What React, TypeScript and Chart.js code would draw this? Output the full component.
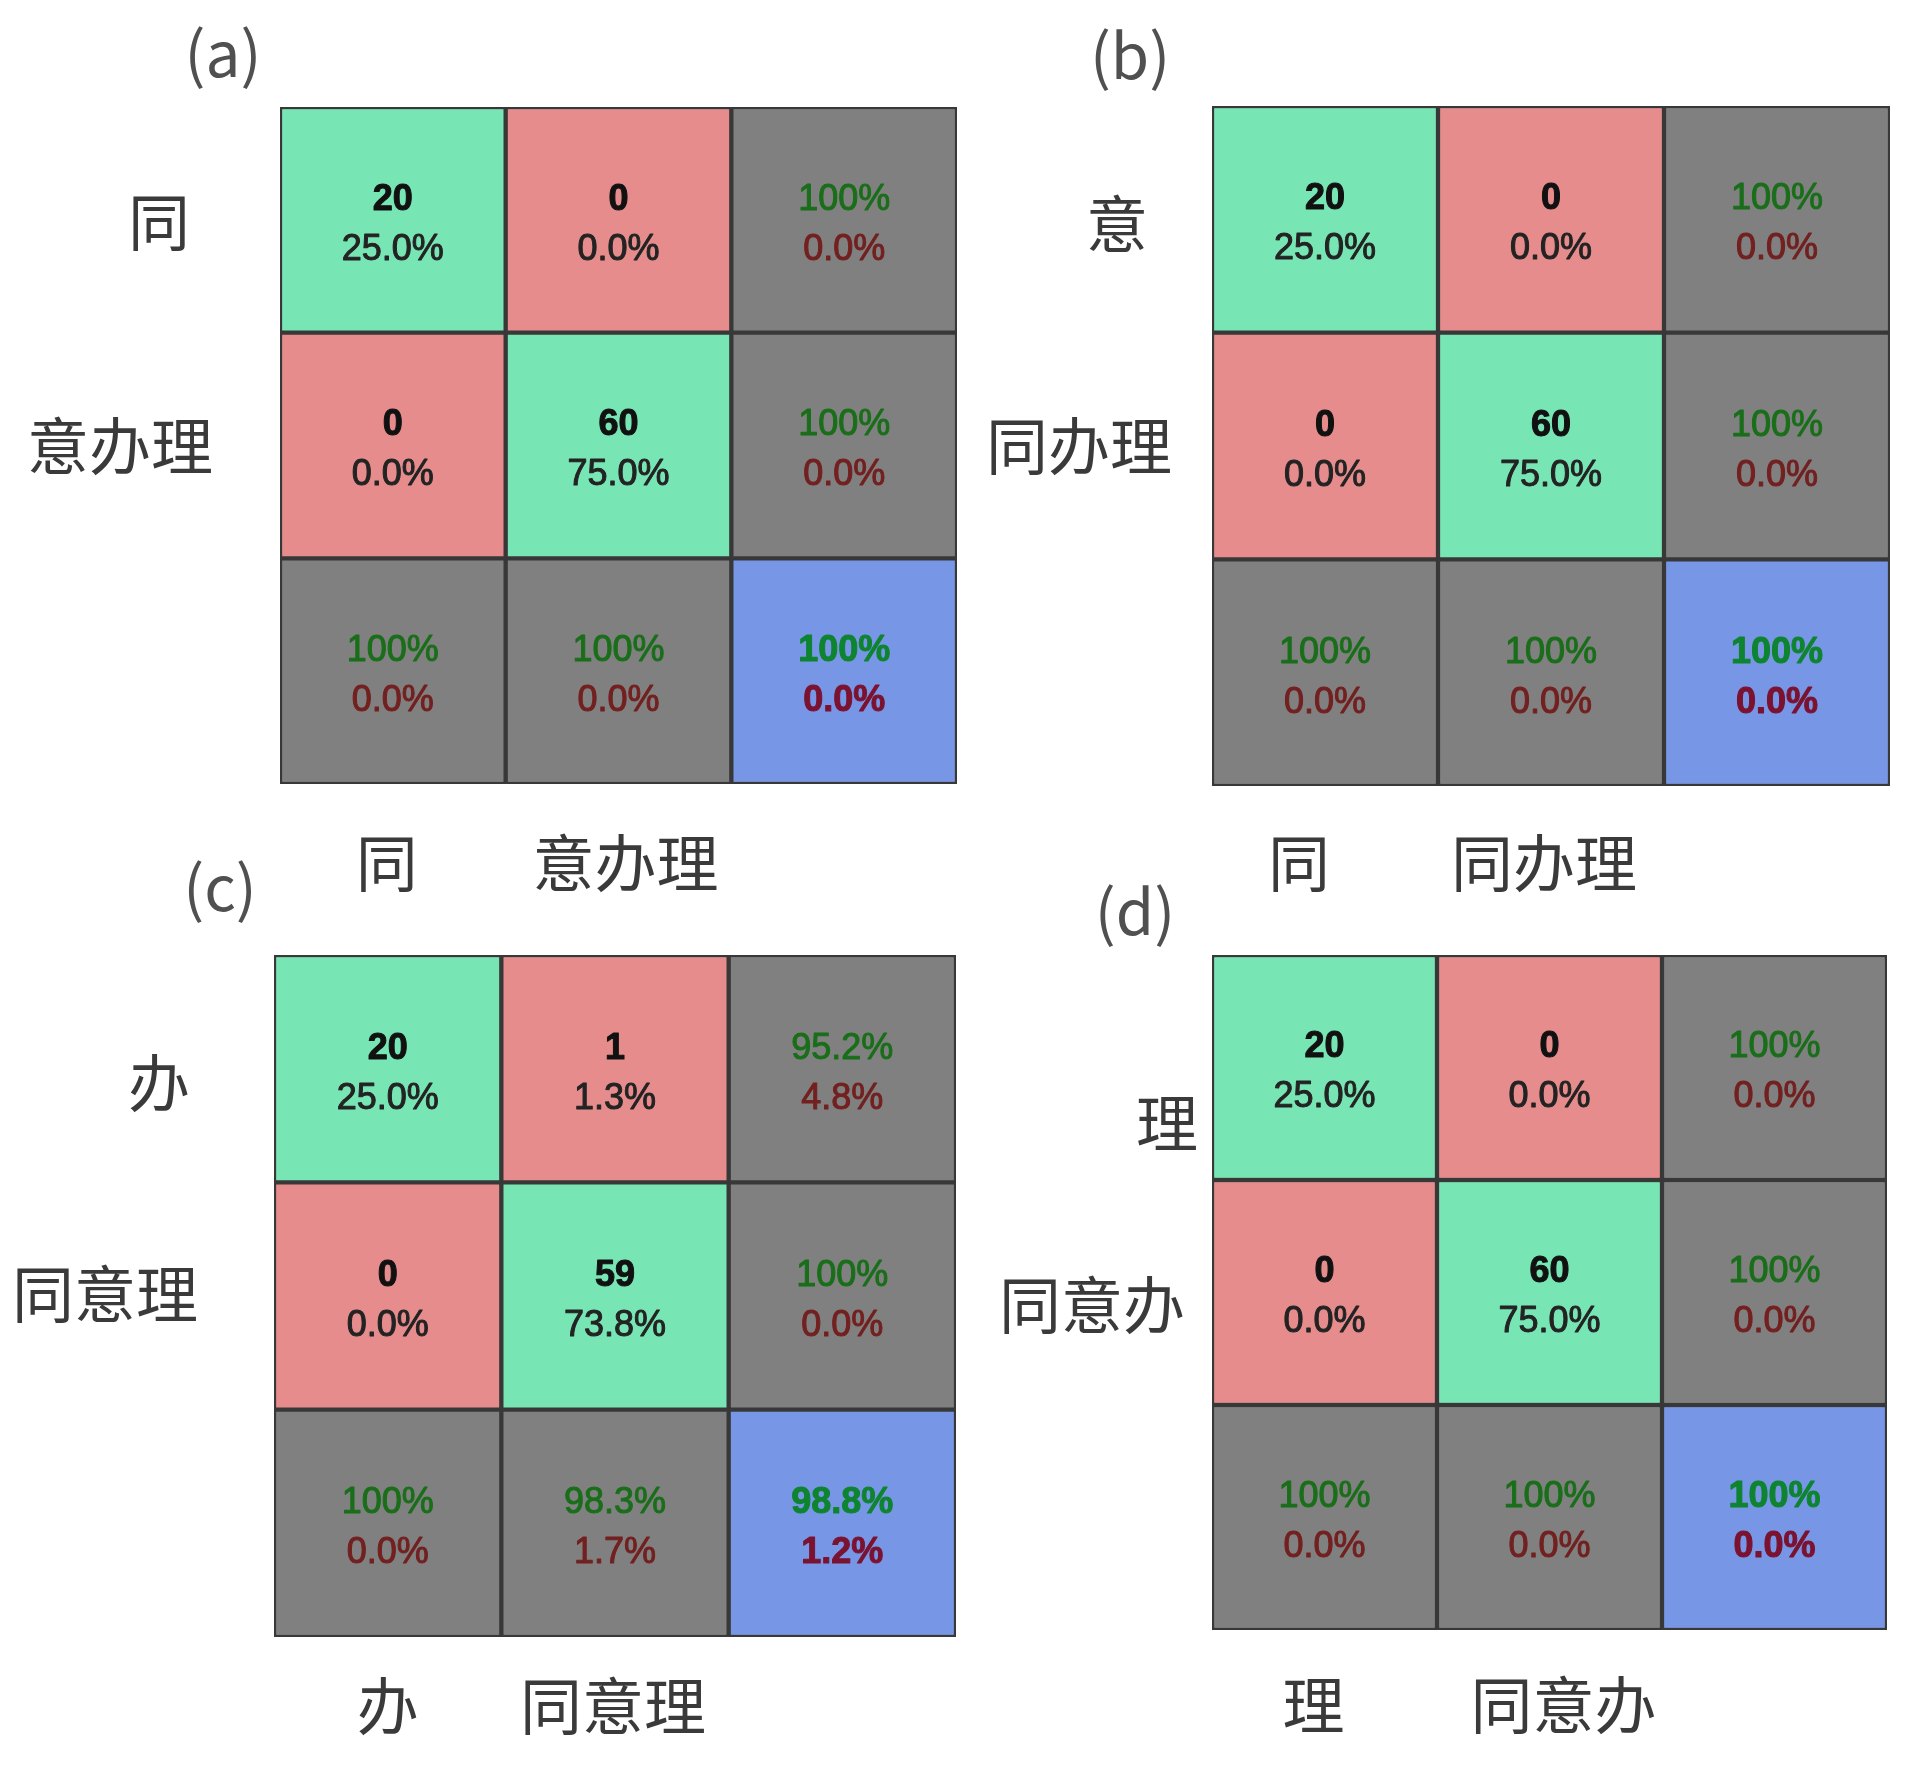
import React, { useEffect, useRef } from 'react';
import { Chart, registerables } from 'chart.js';

Chart.register(...registerables);

const PAGE_W = 1917;
const PAGE_H = 1773;

// ---------- Panel (a) ----------
const titleA = '(a)';
const rowLabelsA = ['同', '意办理'];
const colLabelsA = ['同', '意办理'];
const countsA = [[20, 0], [0, 60]];
const cellPctA = [['25.0%', '0.0%'], ['0.0%', '75.0%']];
const rowSummaryA = [['100%', '0.0%'], ['100%', '0.0%']];
const colSummaryA = [['100%', '0.0%'], ['100%', '0.0%']];
const overallA = ['100%', '0.0%'];

// ---------- Panel (b) ----------
const titleB = '(b)';
const rowLabelsB = ['意', '同办理'];
const colLabelsB = ['同', '同办理'];
const countsB = [[20, 0], [0, 60]];
const cellPctB = [['25.0%', '0.0%'], ['0.0%', '75.0%']];
const rowSummaryB = [['100%', '0.0%'], ['100%', '0.0%']];
const colSummaryB = [['100%', '0.0%'], ['100%', '0.0%']];
const overallB = ['100%', '0.0%'];

// ---------- Panel (c) ----------
const titleC = '(c)';
const rowLabelsC = ['办', '同意理'];
const colLabelsC = ['办', '同意理'];
const countsC = [[20, 1], [0, 59]];
const cellPctC = [['25.0%', '1.3%'], ['0.0%', '73.8%']];
const rowSummaryC = [['95.2%', '4.8%'], ['100%', '0.0%']];
const colSummaryC = [['100%', '0.0%'], ['98.3%', '1.7%']];
const overallC = ['98.8%', '1.2%'];

// ---------- Panel (d) ----------
const titleD = '(d)';
const rowLabelsD = ['理', '同意办'];
const colLabelsD = ['理', '同意办'];
const countsD = [[20, 0], [0, 60]];
const cellPctD = [['25.0%', '0.0%'], ['0.0%', '75.0%']];
const rowSummaryD = [['100%', '0.0%'], ['100%', '0.0%']];
const colSummaryD = [['100%', '0.0%'], ['100%', '0.0%']];
const overallD = ['100%', '0.0%'];

// Unit span of each cell in the 3x3 grid (rows stacked on the value axis)
const cellSpan = [1, 1, 1];

// ---------- Styles / layout ----------
const COLORS = {
  correct: '#78E6B4',
  wrong: '#E68C8C',
  summary: '#808080',
  overall: '#7896E6',
  border: '#383838',
  count: '#111111',
  pct: '#232323',
  good: '#1A6E1A',
  bad: '#722020',
  goodBold: '#0E8430',
  badBold: '#7A1230',
  label: '#3A3A3A',
  title: '#505050',
};

const NUM_FONT = '"Liberation Sans", Arial, Helvetica, sans-serif';
const CJK_FONT = '"Noto Sans CJK SC", "Noto Sans", sans-serif';

type Panel = {
  title: string;
  rowLabels: string[];
  colLabels: string[];
  counts: number[][];
  cellPct: string[][];
  rowSummary: string[][];
  colSummary: string[][];
  overall: string[];
  layout: {
    box: [number, number, number, number];
    title: [number, number];
    xLab: [number, number][];
    yLab: [number, number][];
  };
};

const panels: Panel[] = [
  {
    title: titleA, rowLabels: rowLabelsA, colLabels: colLabelsA, counts: countsA, cellPct: cellPctA,
    rowSummary: rowSummaryA, colSummary: colSummaryA, overall: overallA,
    layout: { box: [280, 107, 957, 784], title: [-57, -54], xLab: [[-6, 79], [7, 79]], yLab: [[121, 3], [160, 1]] },
  },
  {
    title: titleB, rowLabels: rowLabelsB, colLabels: colLabelsB, counts: countsB, cellPct: cellPctB,
    rowSummary: rowSummaryB, colSummary: colSummaryB, overall: overallB,
    layout: { box: [1212, 106, 1890, 786], title: [-82, -51], xLab: [[-26, 77], [-7, 77]], yLab: [[95, 5], [133, 0]] },
  },
  {
    title: titleC, rowLabels: rowLabelsC, colLabels: colLabelsC, counts: countsC, cellPct: cellPctC,
    rowSummary: rowSummaryC, colSummary: colSummaryC, overall: overallC,
    layout: { box: [274, 955, 956, 1637], title: [-54, -68], xLab: [[0, 69], [-2, 69]], yLab: [[115, 15], [169, -2]] },
  },
  {
    title: titleD, rowLabels: rowLabelsD, colLabels: colLabelsD, counts: countsD, cellPct: cellPctD,
    rowSummary: rowSummaryD, colSummary: colSummaryD, overall: overallD,
    layout: { box: [1212, 955, 1887, 1630], title: [-77, -44], xLab: [[-11, 75], [14, 75]], yLab: [[45, 56], [120, 13]] },
  },
];

function cellColor(r: number, c: number): string {
  if (r === 2 && c === 2) return COLORS.overall;
  if (r === 2 || c === 2) return COLORS.summary;
  return r === c ? COLORS.correct : COLORS.wrong;
}

function cellTexts(p: Panel, r: number, c: number) {
  if (r < 2 && c < 2) {
    return [
      { text: String(p.counts[r][c]), color: COLORS.count, bold: true },
      { text: p.cellPct[r][c], color: COLORS.pct, bold: false },
    ];
  }
  if (r === 2 && c === 2) {
    return [
      { text: p.overall[0], color: COLORS.goodBold, bold: true },
      { text: p.overall[1], color: COLORS.badBold, bold: true },
    ];
  }
  const pair = c === 2 ? p.rowSummary[r] : p.colSummary[c];
  return [
    { text: pair[0], color: COLORS.good, bold: false },
    { text: pair[1], color: COLORS.bad, bold: false },
  ];
}

function makePlugin(p: Panel) {
  return {
    id: 'confusionText',
    afterDatasetsDraw(chart: any) {
      const ctx = chart.ctx as CanvasRenderingContext2D;
      ctx.save();
      ctx.textAlign = 'center';
      ctx.textBaseline = 'middle';
      ctx.lineJoin = 'round';
      for (let r = 0; r < 3; r++) {
        const meta = chart.getDatasetMeta(r);
        for (let c = 0; c < 3; c++) {
          const el = meta.data[c];
          const { x, y, base } = el.getProps(['x', 'y', 'base'], true);
          const cy = (y + base) / 2;
          const lines = cellTexts(p, r, c);
          lines.forEach((ln, i) => {
            ctx.font = `${ln.bold ? 'bold ' : ''}36px ${NUM_FONT}`;
            ctx.fillStyle = ln.color;
            ctx.strokeStyle = ln.color;
            ctx.lineWidth = 1;
            const ty = cy + (i === 0 ? -20 : 30);
            ctx.fillText(ln.text, x, ty);
            ctx.strokeText(ln.text, x, ty);
          });
        }
      }
      ctx.restore();
    },
    afterDraw(chart: any) {
      const ctx = chart.ctx as CanvasRenderingContext2D;
      const area = chart.chartArea;
      const xs = chart.scales.x;
      const ys = chart.scales.y;
      const L = p.layout;
      ctx.save();
      ctx.textAlign = 'center';
      ctx.textBaseline = 'middle';
      ctx.fillStyle = COLORS.label;
      ctx.font = `400 62px ${CJK_FONT}`;
      p.colLabels.forEach((lab, i) => {
        const x = xs.getPixelForValue(i) + L.xLab[i][0];
        ctx.fillText(lab, x, area.bottom + L.xLab[i][1]);
      });
      p.rowLabels.forEach((lab, i) => {
        const y = ys.getPixelForValue(i + 0.5) + L.yLab[i][1];
        ctx.fillText(lab, area.left - L.yLab[i][0], y);
      });
      ctx.fillStyle = COLORS.title;
      ctx.font = `400 62px ${CJK_FONT}`;
      ctx.fillText(p.title, area.left + L.title[0], area.top + L.title[1]);
      ctx.restore();
    },
  };
}

function PanelChart({ panel }: { panel: Panel }) {
  const ref = useRef<HTMLCanvasElement | null>(null);
  useEffect(() => {
    if (!ref.current) return;
    const [l, t, rgt, b] = panel.layout.box;
    const datasets = [0, 1, 2].map((r) => ({
      label: `row${r}`,
      data: cellSpan.slice(),
      backgroundColor: [0, 1, 2].map((c) => cellColor(r, c)),
      borderColor: COLORS.border,
      borderWidth: 2.5,
      borderSkipped: false as const,
      categoryPercentage: 1,
      barPercentage: 1,
    }));
    const chart = new Chart(ref.current, {
      type: 'bar',
      data: { labels: [...panel.colLabels, ''], datasets },
      options: {
        responsive: false,
        animation: false,
        devicePixelRatio: 1,
        layout: { padding: { left: l, top: t, right: PAGE_W - rgt, bottom: PAGE_H - b } },
        plugins: { legend: { display: false }, tooltip: { enabled: false } },
        events: [],
        scales: {
          x: { type: 'category', stacked: true, display: false, offset: true, grid: { display: false } },
          y: { type: 'linear', stacked: true, display: false, min: 0, max: 3, reverse: true, grid: { display: false } },
        },
      },
      plugins: [makePlugin(panel)],
    });
    return () => chart.destroy();
  }, [panel]);
  return (
    <canvas
      ref={ref}
      width={PAGE_W}
      height={PAGE_H}
      style={{ position: 'absolute', left: 0, top: 0, width: PAGE_W, height: PAGE_H }}
    />
  );
}

export default function App() {
  useEffect(() => {
    document.body.style.margin = '0';
    document.body.style.background = '#ffffff';
  }, []);
  return (
    <div style={{ position: 'relative', width: PAGE_W, height: PAGE_H, background: '#ffffff', overflow: 'hidden' }}>
      {panels.map((p, i) => (
        <PanelChart key={i} panel={p} />
      ))}
    </div>
  );
}
